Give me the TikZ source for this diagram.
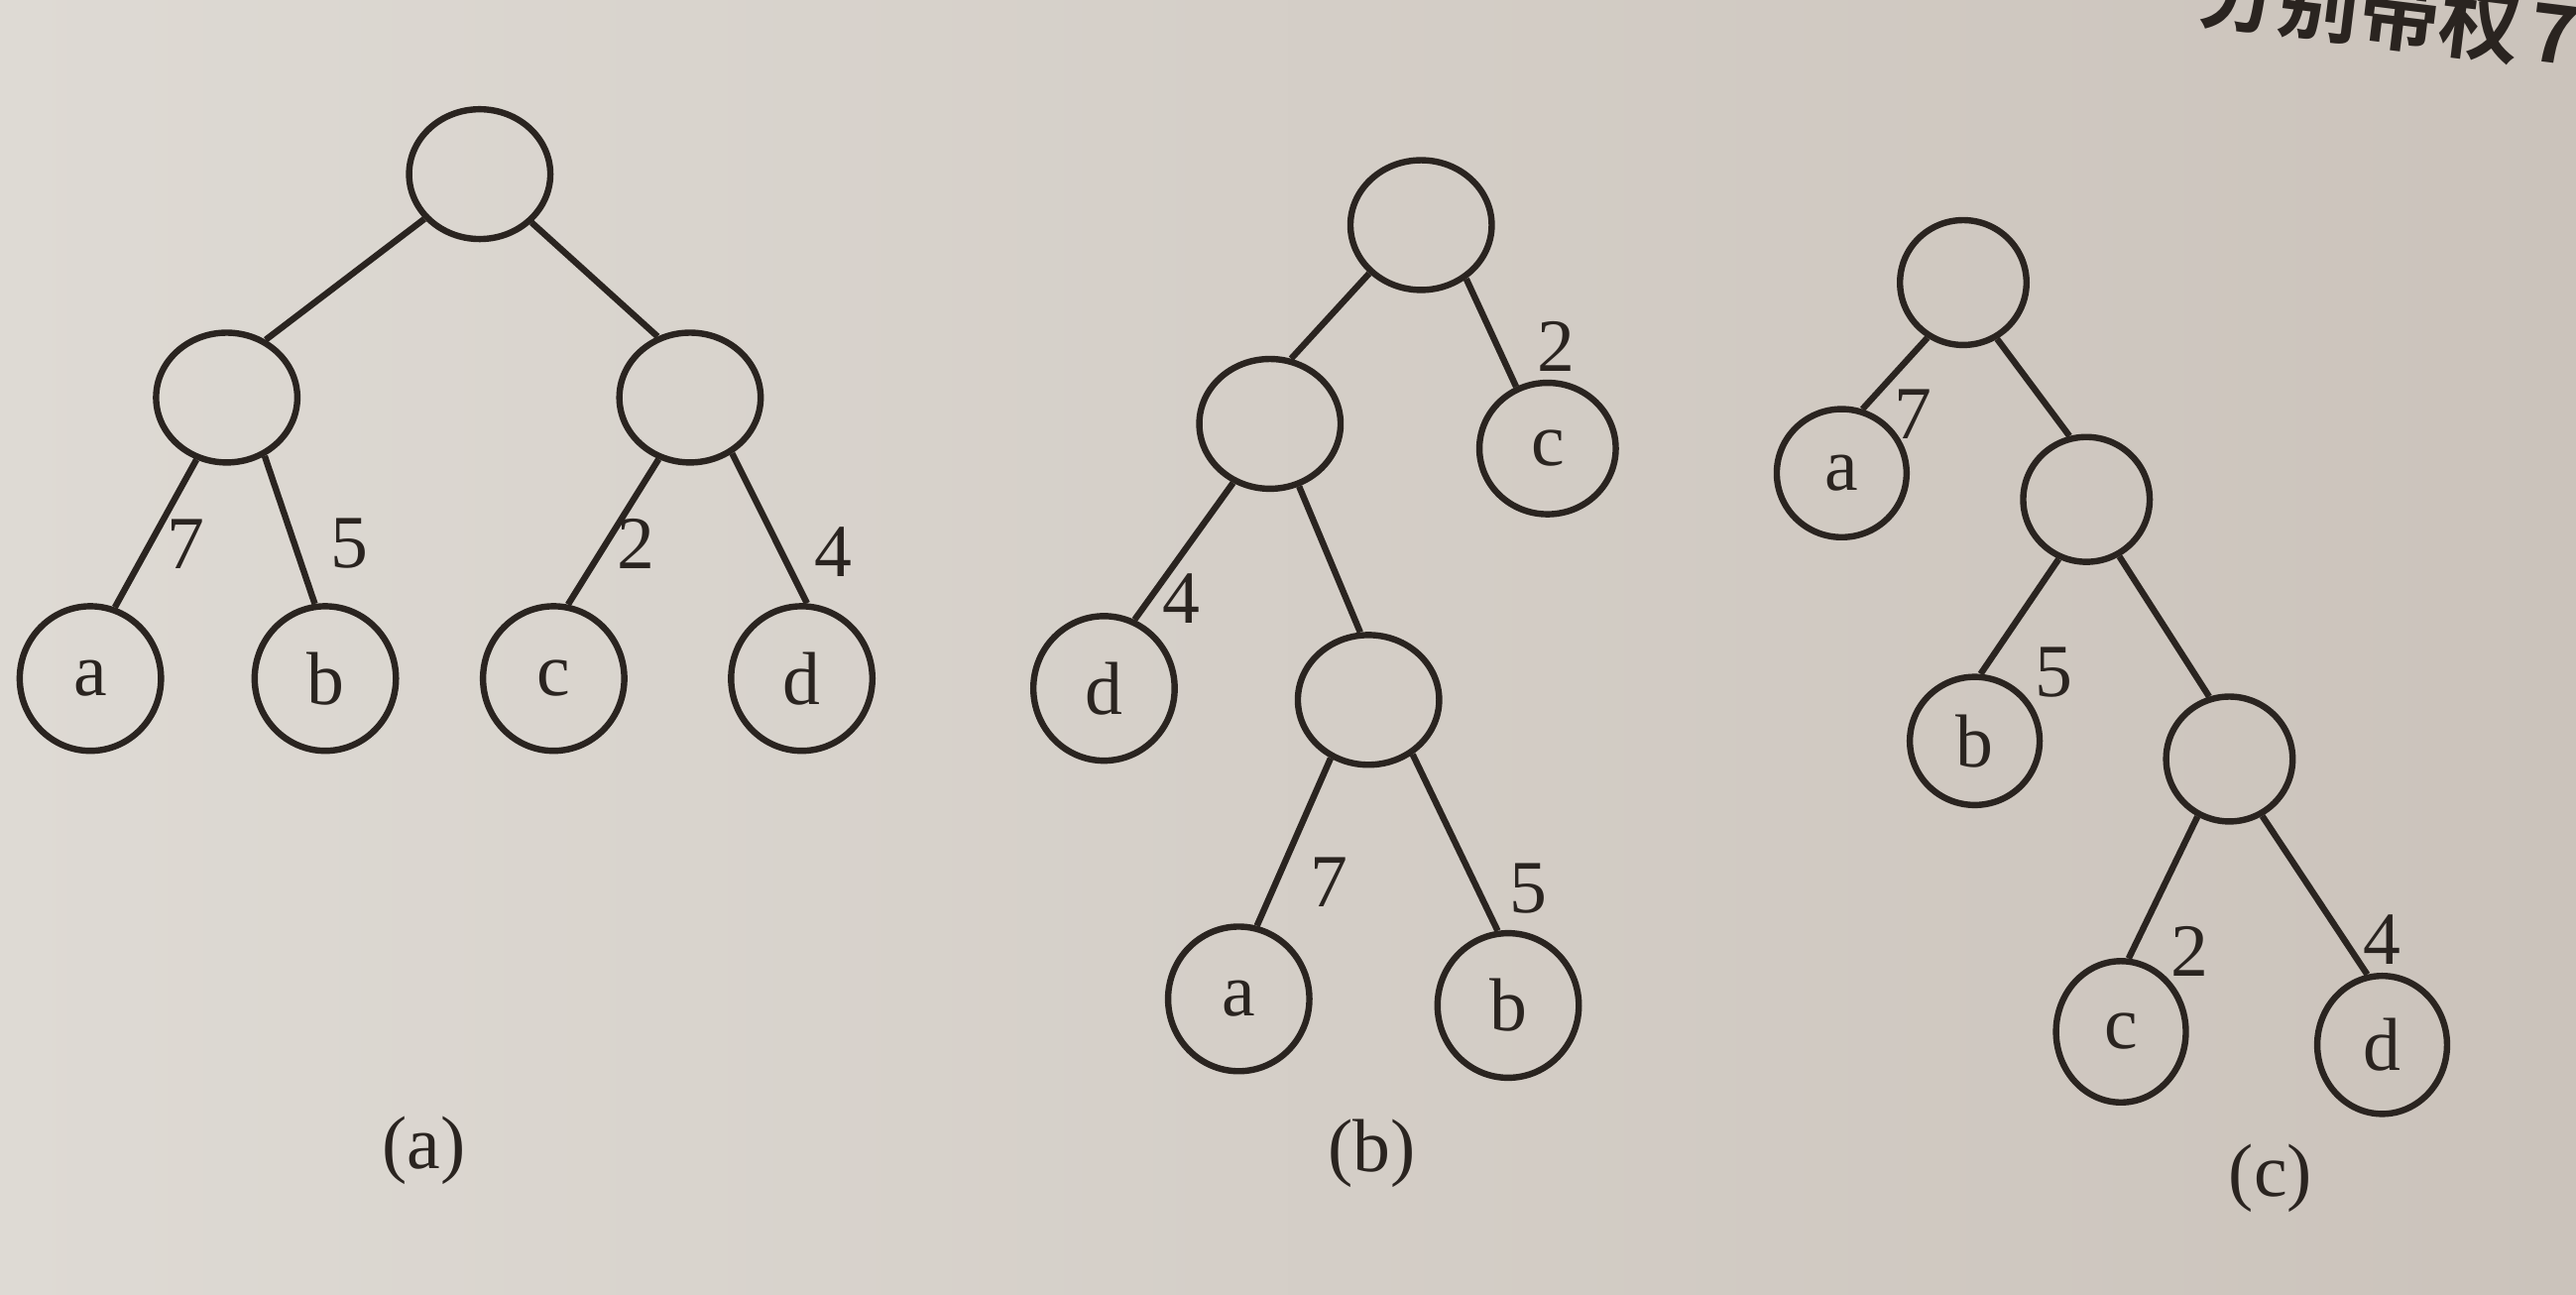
\documentclass[tikz,border=0pt]{standalone}
\usepackage{fontspec}
\setmainfont{Liberation Serif}
\newfontfamily\cjk{Noto Sans CJK SC}[BoldFont={* Bold}]
\usetikzlibrary{shapes.geometric}
\definecolor{ink}{HTML}{2A2420}
\definecolor{paperL}{HTML}{DEDAD4}
\definecolor{paperR}{HTML}{CBC3BB}
\tikzset{
  inner/.style={ellipse, draw=ink, line width=1.1pt, minimum width=8.6mm, minimum height=7.9mm, inner sep=0pt},
  leaf/.style={ellipse, draw=ink, line width=1.1pt, minimum width=8.6mm, minimum height=8.8mm, inner sep=0pt, text=ink, font=\fontsize{13pt}{15pt}\selectfont},
  wt/.style={text=ink, inner sep=0pt, font=\fontsize{13pt}{15pt}\selectfont},
  edge/.style={draw=ink, line width=1.1pt}
}
\begin{document}
\begin{tikzpicture}
  % page
  \useasboundingbox (0,0) rectangle (15.68,7.88);
  \shade[left color=paperL, right color=paperR] (0,0) rectangle (15.68,7.88);
  \node[text=ink, anchor=base west, rotate=-7, inner sep=0pt, font=\cjk\bfseries\fontsize{14pt}{16pt}\selectfont] (head) at (13.36,7.76) {分别带权\hspace{0.12em}7};

  % tree (a)
  \node[inner] (rootA) at (2.92,6.82) {};
  \node[inner] (A1) at (1.38,5.46) {};
  \node[inner] (A2) at (4.20,5.46) {};
  \node[leaf] (aA) at (0.55,3.75) {a};
  \node[leaf] (bA) at (1.98,3.75) {b};
  \node[leaf] (cA) at (3.37,3.75) {c};
  \node[leaf] (dA) at (4.88,3.75) {d};
  \draw[edge] (rootA.219) -- (A1.56);
  \draw[edge] (rootA.317) -- (A2.118);
  \draw[edge] (A1.244) -- (aA.71);
  \draw[edge] (A1.303) -- (bA.98);
  \draw[edge] (A2.243) -- (cA.79);
  \draw[edge] (A2.307) -- (dA.86);
  \node[wt] (w7A) at (1.13,4.57) {7};
  \node[wt] (w5A) at (2.13,4.57) {5};
  \node[wt] (w2A) at (3.87,4.57) {2};
  \node[wt] (w4A) at (5.07,4.52) {4};
  \node[wt] (capA) at (2.58,0.88) {(a)};

  % tree (b)
  \node[inner] (rootB) at (8.65,6.51) {};
  \node[inner] (B1) at (7.73,5.30) {};
  \node[leaf, minimum height=8.0mm, minimum width=8.3mm] (cB) at (9.42,5.15) {c};
  \node[leaf] (dB) at (6.72,3.69) {d};
  \node[inner] (B2) at (8.33,3.62) {};
  \node[leaf] (aB) at (7.54,1.80) {a};
  \node[leaf] (bB) at (9.18,1.76) {b};
  \draw[edge] (rootB.223) -- (B1.72);
  \draw[edge] (rootB.310) -- (cB.117);
  \draw[edge] (B1.238) -- (dB.66);
  \draw[edge] (B1.295) -- (B2.97);
  \draw[edge] (B2.237) -- (aB.76);
  \draw[edge] (B2.309) -- (bB.98);
  \node[wt] (w2B) at (9.47,5.77) {2};
  \node[wt] (w4B) at (7.19,4.24) {4};
  \node[wt] (w7B) at (8.09,2.51) {7};
  \node[wt] (w5B) at (9.30,2.47) {5};
  \node[wt] (capB) at (8.35,0.86) {(b)};

  % tree (c)
  \begin{scope}[inner/.append style={minimum width=7.7mm, minimum height=7.6mm},
                leaf/.append style={minimum width=7.9mm, minimum height=7.8mm}]
  \node[inner] (rootC) at (11.95,6.16) {};
  \node[leaf] (aC) at (11.21,5.00) {a};
  \node[inner] (C1) at (12.70,4.84) {};
  \node[leaf] (bC) at (12.02,3.37) {b};
  \node[inner] (C2) at (13.57,3.26) {};
  \node[leaf, minimum height=8.6mm] (cC) at (12.91,1.60) {c};
  \node[leaf, minimum height=8.4mm] (dC) at (14.50,1.52) {d};
  \draw[edge] (rootC.237) -- (aC.72);
  \draw[edge] (rootC.301) -- (C1.105);
  \draw[edge] (C1.245) -- (bC.85);
  \draw[edge] (C1.300) -- (C2.108);
  \draw[edge] (C2.241) -- (cC.84);
  \draw[edge] (C2.300) -- (dC.102);
  \node[wt] (w7C) at (11.645,5.36) {7};
  \node[wt] (w5C) at (12.50,3.79) {5};
  \node[wt] (w2C) at (13.33,2.09) {2};
  \node[wt] (w4C) at (14.50,2.16) {4};
  \node[wt] (capC) at (13.82,0.71) {(c)};
  \end{scope}
\end{tikzpicture}
\end{document}
